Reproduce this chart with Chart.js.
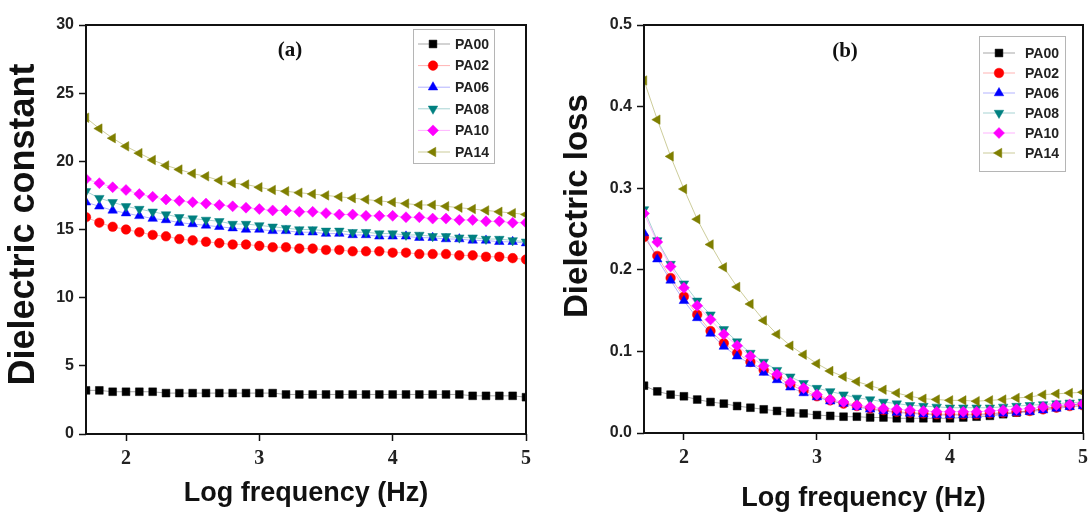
<!DOCTYPE html>
<html>
<head>
<meta charset="utf-8">
<script src="https://cdn.jsdelivr.net/npm/chart.js@4.4.1/dist/chart.umd.min.js"></script>
<style>
  html, body { margin: 0; padding: 0; background: #fff; }
  body { width: 1089px; height: 515px; position: relative; overflow: hidden; }
  canvas { position: absolute; top: 0; }
  #chartA { left: 0; }
  #chartB { left: 545px; }
</style>
</head>
<body>
<canvas id="chartA" width="545" height="515"></canvas>
<canvas id="chartB" width="544" height="515"></canvas>
<script>
// log frequency (Hz), one point every 0.1 decade
const logFreq = [1.7, 1.8, 1.9, 2.0, 2.1, 2.2, 2.3, 2.4, 2.5, 2.6, 2.7, 2.8, 2.9, 3.0, 3.1, 3.2, 3.3,
  3.4, 3.5, 3.6, 3.7, 3.8, 3.9, 4.0, 4.1, 4.2, 4.3, 4.4, 4.5, 4.6, 4.7, 4.8, 4.9, 5.0];

const seriesNames = ['PA00', 'PA02', 'PA06', 'PA08', 'PA10', 'PA14'];

// (a) dielectric constant
const constPA00 = [3.2, 3.2, 3.1, 3.1, 3.1, 3.1, 3.0, 3.0, 3.0, 3.0, 3.0, 3.0, 3.0, 3.0, 3.0, 2.9, 2.9,
  2.9, 2.9, 2.9, 2.9, 2.9, 2.9, 2.9, 2.9, 2.9, 2.9, 2.9, 2.9, 2.8, 2.8, 2.8, 2.8, 2.7];
const constPA02 = [15.9, 15.5, 15.2, 15.0, 14.8, 14.6, 14.5, 14.3, 14.2, 14.1, 14.0, 13.9, 13.9, 13.8, 13.7, 13.7, 13.6,
  13.6, 13.5, 13.5, 13.4, 13.4, 13.4, 13.3, 13.3, 13.2, 13.2, 13.2, 13.1, 13.1, 13.0, 13.0, 12.9, 12.8];
const constPA06 = [17.0, 16.7, 16.4, 16.2, 16.0, 15.8, 15.7, 15.5, 15.4, 15.3, 15.2, 15.1, 15.0, 15.0, 14.9, 14.9, 14.8,
  14.8, 14.7, 14.7, 14.6, 14.6, 14.5, 14.5, 14.5, 14.4, 14.4, 14.3, 14.3, 14.2, 14.2, 14.1, 14.1, 14.0];
const constPA08 = [17.8, 17.3, 17.0, 16.7, 16.5, 16.3, 16.1, 15.9, 15.8, 15.7, 15.6, 15.4, 15.4, 15.3, 15.2, 15.1, 15.0,
  15.0, 14.9, 14.9, 14.8, 14.8, 14.7, 14.7, 14.6, 14.6, 14.5, 14.5, 14.4, 14.4, 14.3, 14.3, 14.2, 14.1];
const constPA10 = [18.7, 18.4, 18.1, 17.9, 17.6, 17.4, 17.2, 17.1, 17.0, 16.9, 16.8, 16.7, 16.6, 16.5, 16.4, 16.4, 16.3,
  16.3, 16.2, 16.1, 16.1, 16.0, 16.0, 16.0, 15.9, 15.9, 15.8, 15.8, 15.7, 15.7, 15.6, 15.6, 15.5, 15.5];
const constPA14 = [23.2, 22.4, 21.7, 21.1, 20.6, 20.1, 19.7, 19.4, 19.1, 18.9, 18.6, 18.4, 18.3, 18.1, 17.9, 17.8, 17.7,
  17.6, 17.5, 17.4, 17.3, 17.2, 17.1, 17.0, 16.9, 16.8, 16.8, 16.7, 16.6, 16.5, 16.4, 16.3, 16.2, 16.1];

// (b) dielectric loss
const lossPA00 = [0.058, 0.051, 0.047, 0.045, 0.041, 0.038, 0.036, 0.033, 0.031, 0.029, 0.027, 0.025, 0.024, 0.022, 0.021, 0.020, 0.020,
  0.019, 0.019, 0.018, 0.018, 0.018, 0.018, 0.018, 0.019, 0.020, 0.021, 0.023, 0.025, 0.027, 0.030, 0.032, 0.034, 0.036];
const lossPA02 = [0.240, 0.217, 0.190, 0.167, 0.145, 0.125, 0.110, 0.098, 0.087, 0.077, 0.069, 0.059, 0.052, 0.045, 0.040, 0.036, 0.033,
  0.030, 0.028, 0.026, 0.025, 0.024, 0.023, 0.023, 0.023, 0.023, 0.024, 0.025, 0.026, 0.027, 0.029, 0.031, 0.033, 0.034];
const lossPA06 = [0.245, 0.213, 0.187, 0.162, 0.141, 0.122, 0.106, 0.094, 0.085, 0.074, 0.065, 0.056, 0.049, 0.044, 0.039, 0.036, 0.032,
  0.029, 0.027, 0.025, 0.024, 0.023, 0.022, 0.022, 0.022, 0.022, 0.023, 0.024, 0.025, 0.026, 0.028, 0.030, 0.032, 0.033];
const lossPA08 = [0.274, 0.236, 0.207, 0.183, 0.162, 0.145, 0.127, 0.112, 0.098, 0.087, 0.077, 0.069, 0.061, 0.055, 0.051, 0.047, 0.043,
  0.041, 0.038, 0.036, 0.034, 0.033, 0.032, 0.031, 0.031, 0.031, 0.031, 0.032, 0.033, 0.034, 0.035, 0.036, 0.037, 0.038];
const lossPA10 = [0.269, 0.234, 0.204, 0.178, 0.156, 0.139, 0.121, 0.107, 0.094, 0.082, 0.072, 0.062, 0.055, 0.047, 0.041, 0.038, 0.034,
  0.032, 0.030, 0.029, 0.028, 0.027, 0.026, 0.026, 0.026, 0.026, 0.027, 0.028, 0.029, 0.030, 0.032, 0.034, 0.035, 0.036];
const lossPA14 = [0.432, 0.384, 0.339, 0.299, 0.262, 0.231, 0.203, 0.179, 0.158, 0.138, 0.121, 0.107, 0.096, 0.085, 0.076, 0.069, 0.063,
  0.058, 0.053, 0.049, 0.045, 0.042, 0.041, 0.040, 0.040, 0.039, 0.040, 0.041, 0.043, 0.044, 0.047, 0.048, 0.049, 0.050];

const xTicks = [2, 3, 4, 5];
const constTicks = [0, 5, 10, 15, 20, 25, 30];
const lossTicks = [0.0, 0.1, 0.2, 0.3, 0.4, 0.5];

const markColors = ['#000000', '#ff0000', '#0000ff', '#008080', '#ff00ff', '#7f7f00'];
const lineColors = ['rgba(0,0,0,0.35)', 'rgba(255,0,0,0.3)', 'rgba(0,0,255,0.3)', 'rgba(0,128,128,0.35)',
  'rgba(255,0,255,0.3)', 'rgba(127,127,0,0.4)'];
const markStyles = ['rect', 'circle', 'triangle', 'triangle', 'rectRot', 'triangle'];
const markRotations = [0, 0, 0, 180, 0, 270];
const markRadius = [5.5, 4.8, 5.5, 5.5, 5.5, 5.5];

const SANS = '"Liberation Sans", Arial, sans-serif';
const SERIF = '"Liberation Serif", "Times New Roman", serif';

const buildSets = (series) => series.map((vals, i) => ({
  label: seriesNames[i],
  data: vals.map((v, k) => ({ x: logFreq[k], y: v })),
  borderColor: lineColors[i],
  borderWidth: 1,
  backgroundColor: markColors[i],
  pointBackgroundColor: markColors[i],
  pointBorderColor: markColors[i],
  pointBorderWidth: 0.5,
  pointStyle: markStyles[i],
  pointRotation: markRotations[i],
  pointRadius: markRadius[i],
  pointHoverRadius: markRadius[i],
  tension: 0,
  order: seriesNames.length - i
}));

const framePlugin = {
  id: 'frame',
  afterDraw(chart) {
    const { ctx, chartArea: a } = chart;
    ctx.save();
    ctx.strokeStyle = '#111';
    ctx.lineWidth = 2;
    ctx.strokeRect(a.left, a.top, a.right - a.left, a.bottom - a.top);
    ctx.restore();
  }
};

function boxLegend(box) {
  return {
    id: 'boxLegend',
    afterDraw(chart) {
      const ctx = chart.ctx;
      ctx.save();
      ctx.fillStyle = '#fff';
      ctx.fillRect(box.x, box.y, box.w, box.h);
      ctx.strokeStyle = '#b5b5b5';
      ctx.lineWidth = 1;
      ctx.strokeRect(box.x + 0.5, box.y + 0.5, box.w, box.h);
      seriesNames.forEach((name, i) => {
        const y = box.firstRow + i * box.rowH;
        ctx.strokeStyle = lineColors[i];
        ctx.lineWidth = 1;
        ctx.beginPath();
        ctx.moveTo(box.lineX0, y);
        ctx.lineTo(box.lineX1, y);
        ctx.stroke();
        ctx.fillStyle = markColors[i];
        ctx.strokeStyle = markColors[i];
        ctx.lineWidth = 0.5;
        Chart.helpers.drawPoint(ctx, {
          pointStyle: markStyles[i], radius: markRadius[i], rotation: markRotations[i], borderWidth: 0.5
        }, box.markX, y);
        ctx.fillStyle = '#222';
        ctx.font = 'bold 14px ' + SANS;
        ctx.textBaseline = 'middle';
        ctx.textAlign = 'left';
        ctx.fillText(name, box.textX, y + 1);
      });
      ctx.restore();
    }
  };
}

function panelLabel(text, x, y) {
  return {
    id: 'panelLabel',
    afterDraw(chart) {
      const ctx = chart.ctx;
      ctx.save();
      ctx.fillStyle = '#111';
      ctx.font = 'bold 21px ' + SERIF;
      ctx.textAlign = 'center';
      ctx.textBaseline = 'middle';
      ctx.fillText(text, x, y);
      ctx.restore();
    }
  };
}

function makeChart(id, series, p) {
  return new Chart(document.getElementById(id), {
    type: 'line',
    data: { datasets: buildSets(series) },
    options: {
      responsive: false,
      animation: false,
      devicePixelRatio: 1,
      layout: { padding: { top: 25, right: p.padRight, left: 0, bottom: 0 } },
      plugins: { legend: { display: false }, tooltip: { enabled: false } },
      scales: {
        x: {
          type: 'linear',
          min: 1.7,
          max: 5,
          afterBuildTicks: (s) => { s.ticks = xTicks.map(v => ({ value: v })); },
          afterFit: (s) => { s.height = p.xHeight; s.paddingLeft = 0; s.paddingRight = 0; },
          grid: { drawOnChartArea: false, drawTicks: true, tickLength: 7, tickColor: '#111', tickWidth: 1.5 },
          border: { display: false },
          ticks: { color: '#222', padding: 6, font: { family: SERIF, size: 20, weight: 'bold' } },
          title: {
            display: true, text: 'Log frequency (Hz)', color: '#111',
            font: { family: SANS, size: 27, weight: 'bold' },
            padding: { top: 0, bottom: p.xTitlePad }
          }
        },
        y: {
          min: p.yMin,
          max: p.yMax,
          afterBuildTicks: (s) => { s.ticks = p.yTicks.map(v => ({ value: v })); },
          afterFit: (s) => { s.width = p.yWidth; s.paddingTop = 0; s.paddingBottom = 0; },
          grid: { drawOnChartArea: false, drawTicks: true, tickLength: 7, tickColor: '#111', tickWidth: 1.5 },
          border: { display: false },
          ticks: {
            color: '#222', padding: 5,
            font: { family: SANS, size: 16, weight: 'bold' },
            callback: (v) => p.yFmt(v)
          },
          title: {
            display: true, text: p.yTitle, color: '#111',
            font: { family: SANS, size: p.yTitleSize, weight: 'bold' },
            padding: { top: p.yTitlePad, bottom: 0 }
          }
        }
      }
    },
    plugins: [framePlugin, boxLegend(p.legend), panelLabel(p.label, p.labelX, p.labelY)]
  });
}

makeChart('chartA', [constPA00, constPA02, constPA06, constPA08, constPA10, constPA14], {
  padRight: 19, xHeight: 81, yWidth: 86, xTitlePad: 5, yTitlePad: 2, yTitleSize: 36,
  yMin: 0, yMax: 30, yTicks: constTicks, yFmt: (v) => String(v),
  yTitle: ' Dielectric constant',
  label: '(a)', labelX: 290, labelY: 51,
  legend: { x: 413, y: 29, w: 81, h: 134, firstRow: 44, rowH: 21.6, lineX0: 418, lineX1: 450, markX: 433, textX: 455 }
});

makeChart('chartB', [lossPA00, lossPA02, lossPA06, lossPA08, lossPA10, lossPA14], {
  padRight: 2, xHeight: 82, yWidth: 99, xTitlePad: 0, yTitlePad: 13, yTitleSize: 33,
  yMin: 0, yMax: 0.5, yTicks: lossTicks, yFmt: (v) => v.toFixed(1),
  yTitle: '     Dielectric loss',
  label: '(b)', labelX: 300, labelY: 52,
  legend: { x: 434, y: 36, w: 86, h: 135, firstRow: 53, rowH: 20, lineX0: 438, lineX1: 470, markX: 454, textX: 480 }
});
</script>
</body>
</html>
